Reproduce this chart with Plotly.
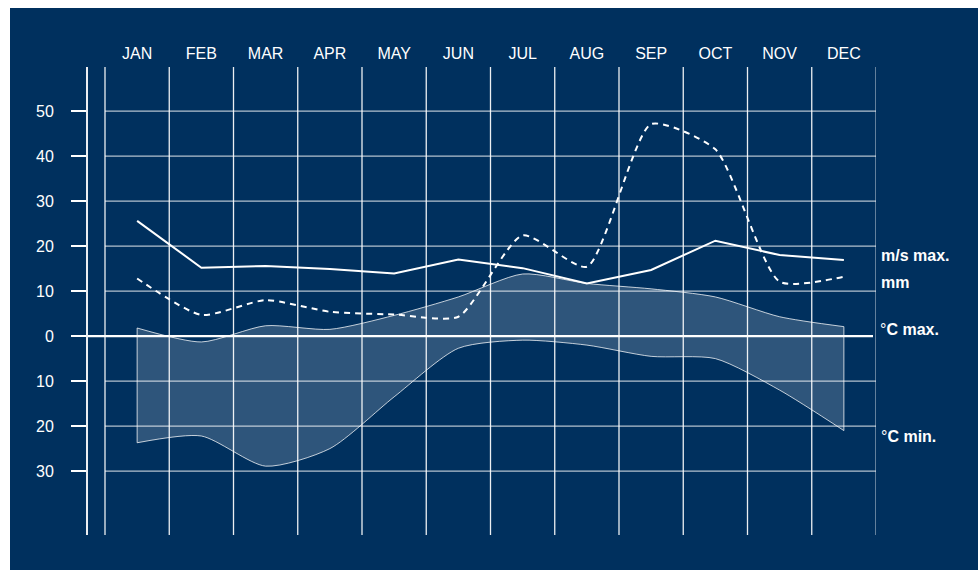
import plotly.graph_objects as go

# Monthly climate values
months = ["JAN", "FEB", "MAR", "APR", "MAY", "JUN",
          "JUL", "AUG", "SEP", "OCT", "NOV", "DEC"]
wind_max = [25.6, 15.2, 15.6, 14.9, 13.9, 17.0, 15.1, 11.7, 14.7, 21.2, 18.0, 16.9]   # m/s
precip_mm = [12.8, 4.7, 8.0, 5.4, 4.8, 4.3, 22.4, 15.4, 47.1, 41.5, 12.1, 13.2]       # mm
temp_max = [1.8, -1.3, 2.3, 1.5, 4.6, 8.7, 13.8, 11.7, 10.5, 8.7, 4.3, 2.1]           # °C
temp_min = [-23.7, -22.2, -28.9, -25.0, -13.5, -2.7, -0.9, -2.0, -4.5, -5.0, -12.0, -21.0]  # °C

tick_vals = [-30, -20, -10, 0, 10, 20, 30, 40, 50]
tick_text = ["30", "20", "10", "0", "10", "20", "30", "40", "50"]

NAVY = "rgb(0,48,94)"
FONT = "Liberation Sans, Arial, sans-serif"

x = list(range(len(months)))
n = len(months)

fig = go.Figure()

# Temperature band between daily max and min
fig.add_trace(go.Scatter(
    x=x, y=temp_max, mode="lines",
    line=dict(color="rgba(255,255,255,0.75)", width=1, shape="spline", smoothing=0.7),
    hoverinfo="skip", showlegend=False))
fig.add_trace(go.Scatter(
    x=x, y=temp_min, mode="lines", fill="tonexty",
    fillcolor="rgba(255,255,255,0.18)",
    line=dict(color="rgba(255,255,255,0.75)", width=1, shape="spline", smoothing=0.7),
    hoverinfo="skip", showlegend=False))
# Closing edges of the band at both ends
fig.add_trace(go.Scatter(
    x=[x[0], x[0], None, x[-1], x[-1]],
    y=[temp_max[0], temp_min[0], None, temp_max[-1], temp_min[-1]],
    mode="lines", line=dict(color="rgba(255,255,255,0.75)", width=1),
    hoverinfo="skip", showlegend=False))

# Precipitation (dashed)
fig.add_trace(go.Scatter(
    x=x, y=precip_mm, mode="lines",
    line=dict(color="white", width=2, dash="6px,5px", shape="spline", smoothing=0.6),
    hoverinfo="skip", showlegend=False))

# Maximum wind speed
fig.add_trace(go.Scatter(
    x=x, y=wind_max, mode="lines",
    line=dict(color="white", width=2),
    hoverinfo="skip", showlegend=False))

shapes = []
# Navy panel behind the chart
shapes.append(dict(type="rect", xref="paper", yref="paper",
                   x0=(10 - 88) / 788, x1=1.3, y0=-0.3, y1=(535 - 8) / 468,
                   fillcolor=NAVY, line=dict(width=0), layer="below"))
# Vertical grid lines at month boundaries
for i in range(n + 1):
    shapes.append(dict(type="line", xref="x", yref="paper",
                       x0=i - 0.5, x1=i - 0.5, y0=0, y1=1,
                       line=dict(color="rgba(255,255,255,0.92)" if i < n else "rgba(255,255,255,0.6)",
                                 width=1.3), layer="below"))
# Horizontal grid lines
for v in tick_vals:
    if v == 0:
        continue
    shapes.append(dict(type="line", xref="x", yref="y",
                       x0=-0.5, x1=n - 0.5, y0=v, y1=v,
                       line=dict(color="rgba(255,255,255,0.7)", width=1.3), layer="below"))
# Zero line, extended across the axis gap
shapes.append(dict(type="line", xref="paper", yref="y",
                   x0=0, x1=(873 - 88) / 788, y0=0, y1=0,
                   line=dict(color="white", width=2.2), layer="above"))

fig.update_layout(
    width=978, height=570,
    margin=dict(l=88, r=102, t=67, b=35),
    paper_bgcolor="white",
    plot_bgcolor="rgba(0,0,0,0)",
    font=dict(family=FONT, color="white", size=16),
    shapes=shapes,
    xaxis=dict(
        range=[-0.5 - 17 / 64.25, n - 0.5],
        side="top", tickmode="array", tickvals=x, ticktext=months,
        showgrid=False, zeroline=False, showline=False, ticks="",
        tickfont=dict(size=16, color="white"), ticklabelstandoff=4,
        fixedrange=True,
    ),
    yaxis=dict(
        range=[-44.2, 59.8],
        tickmode="array", tickvals=tick_vals, ticktext=tick_text,
        showgrid=False, zeroline=False,
        showline=True, linecolor="rgba(255,255,255,0.92)", linewidth=2,
        ticks="outside", ticklen=15, tickwidth=2, tickcolor="white",
        ticklabelstandoff=14,
        tickfont=dict(size=16, color="white"),
        fixedrange=True,
    ),
    annotations=[
        dict(x=n - 0.5, y=18.0, xref="x", yref="y", xanchor="left", yanchor="middle",
             xshift=3, text="<b>m/s max.</b>", showarrow=False,
             font=dict(size=16, color="white", family=FONT)),
        dict(x=n - 0.5, y=12.0, xref="x", yref="y", xanchor="left", yanchor="middle",
             xshift=3, text="<b>mm</b>", showarrow=False,
             font=dict(size=16, color="white", family=FONT)),
        dict(x=n - 0.5, y=1.5, xref="x", yref="y", xanchor="left", yanchor="middle",
             xshift=2, text="°<b>C max.</b>", showarrow=False,
             font=dict(size=16, color="white", family=FONT)),
        dict(x=n - 0.5, y=-22.2, xref="x", yref="y", xanchor="left", yanchor="middle",
             xshift=3, text="°<b>C min.</b>", showarrow=False,
             font=dict(size=16, color="white", family=FONT)),
    ],
)

fig.write_html("out.html")
